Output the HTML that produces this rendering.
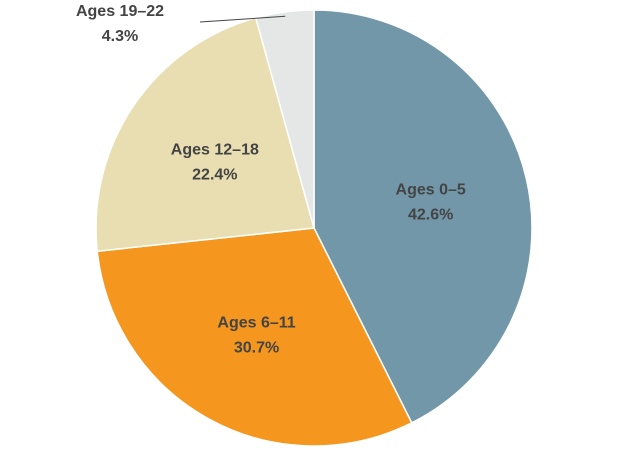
<!DOCTYPE html>
<html><head><meta charset="utf-8"><style>
html,body{margin:0;padding:0;background:#fff;}
svg text{font-family:"Liberation Sans",sans-serif;font-weight:bold;font-size:16px;fill:#444;text-anchor:middle;}
</style></head><body>
<svg id="chart" width="623" height="451" viewBox="0 0 623 451" xmlns="http://www.w3.org/2000/svg"></svg>
<script>
const categories = ["Ages 0–5", "Ages 6–11", "Ages 12–18", "Ages 19–22"];
const values = [42.6, 30.7, 22.4, 4.3];
const colors = ["#7297a9", "#f5961f", "#e9deb1", "#e5e7e7"];
const valueLabels = ["42.6%", "30.7%", "22.4%", "4.3%"];

const svg = document.getElementById('chart');
const NS = "http://www.w3.org/2000/svg";
const cx = 314, cy = 228, r = 218;
const total = values.reduce((a,b)=>a+b,0);
function pt(angle, rad){ return [cx + rad*Math.sin(angle), cy - rad*Math.cos(angle)]; }
let start = 0;
values.forEach((v,i)=>{
  const sweep = v/total*2*Math.PI;
  const end = start + sweep;
  const [x1,y1] = pt(start,r), [x2,y2] = pt(end,r);
  const p = document.createElementNS(NS,'path');
  p.setAttribute('d', `M${cx},${cy} L${x1},${y1} A${r},${r} 0 ${sweep>Math.PI?1:0} 1 ${x2},${y2} Z`);
  p.setAttribute('fill', colors[i]);
  p.setAttribute('stroke', '#fff');
  p.setAttribute('stroke-width', '1.5');
  
  
  svg.appendChild(p);
  const mid = start + sweep/2;
  let lx, ly;
  if (v/total < 0.08) {
    const [ex,ey] = pt(mid, r*0.98);
    lx = 120; ly = 22;
    const ln = document.createElementNS(NS,'line');
    ln.setAttribute('x1', ex); ln.setAttribute('y1', ey);
    ln.setAttribute('x2', 200); ln.setAttribute('y2', 22);
    ln.setAttribute('stroke', '#444'); ln.setAttribute('stroke-width', '1');
    
    
    svg.appendChild(ln);
  } else {
    [lx, ly] = pt(mid, r*0.55);
  }
  const t1 = document.createElementNS(NS,'text');
  t1.setAttribute('x', lx); t1.setAttribute('y', ly - 6);
  t1.textContent = categories[i];
  
  
  svg.appendChild(t1);
  const t2 = document.createElementNS(NS,'text');
  t2.setAttribute('x', lx); t2.setAttribute('y', ly + 19);
  t2.textContent = valueLabels[i];
  
  
  svg.appendChild(t2);
  start = end;
});
</script>
</body></html>
